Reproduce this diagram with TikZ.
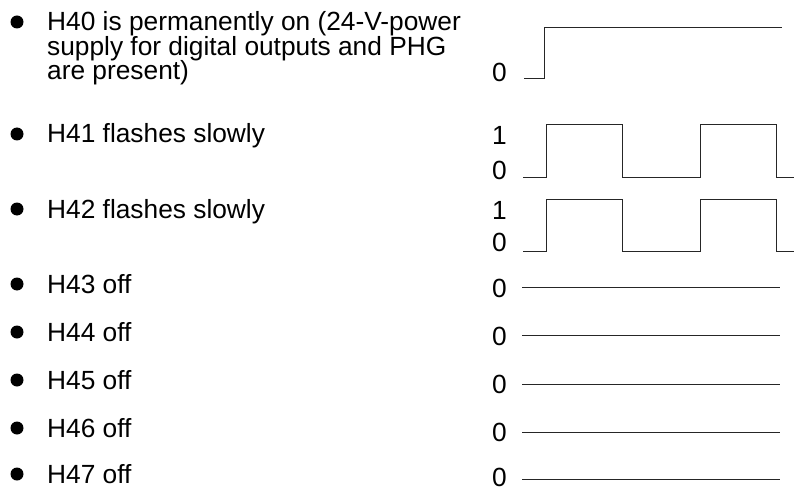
\documentclass[tikz,border=0pt]{standalone}
\usepackage{fontspec}
\setmainfont{Liberation Sans}
\begin{document}
\begin{tikzpicture}[x=1pt,y=-1pt,
  txt/.style={anchor=base west, inner sep=0pt, font=\fontsize{26.3}{26}\selectfont},
  dot/.style={circle, fill=black, inner sep=0pt, minimum size=13pt},
  sig/.style={line width=1pt, black!85}]
\useasboundingbox (0,0) rectangle (794,489);

% left column
\node[dot] (b0) at (17,22) {};
\node[txt] (t0a) at (47,31) {H40 is permanently on (24-V-power};
\node[txt] (t0b) at (47,55.5) {supply for digital outputs and PHG};
\node[txt] (t0c) at (47,80) {are present)};
\node[dot] (b1) at (17,134) {};
\node[txt] (t1) at (47,143) {H41 flashes slowly};
\node[dot] (b2) at (17,209) {};
\node[txt] (t2) at (47,218) {H42 flashes slowly};
\node[dot] (b3) at (17,284) {};
\node[txt] (t3) at (47,293) {H43 off};
\node[dot] (b4) at (17,332) {};
\node[txt] (t4) at (47,341) {H44 off};
\node[dot] (b5) at (17,380) {};
\node[txt] (t5) at (47,389) {H45 off};
\node[dot] (b6) at (17,428) {};
\node[txt] (t6) at (47,437) {H46 off};
\node[dot] (b7) at (17,474) {};
\node[txt] (t7) at (47,483) {H47 off};

% level labels
\node[txt] (l0) at (492,82) {0};
\node[txt] (l1h) at (492,145) {1};
\node[txt] (l1l) at (492,179) {0};
\node[txt] (l2h) at (492,219) {1};
\node[txt] (l2l) at (492,251) {0};
\node[txt] (l3) at (492,297) {0};
\node[txt] (l4) at (492,345) {0};
\node[txt] (l5) at (492,393) {0};
\node[txt] (l6) at (492,441) {0};
\node[txt] (l7) at (492,486) {0};

% signals
\draw[sig] (524,79) -- (544,79) -- (544,28) -- (782,28);
\draw[sig] (523,177) -- (546,177) -- (546,125) -- (622,125) -- (622,177)
  -- (700,177) -- (700,125) -- (776,125) -- (776,177) -- (794,177);
\draw[sig] (523,251) -- (546,251) -- (546,199) -- (622,199) -- (622,251)
  -- (700,251) -- (700,199) -- (776,199) -- (776,251) -- (794,251);
\foreach \yy in {287,335,384,432,479}
  \draw[sig] (522,\yy) -- (780,\yy);
\end{tikzpicture}
\end{document}
